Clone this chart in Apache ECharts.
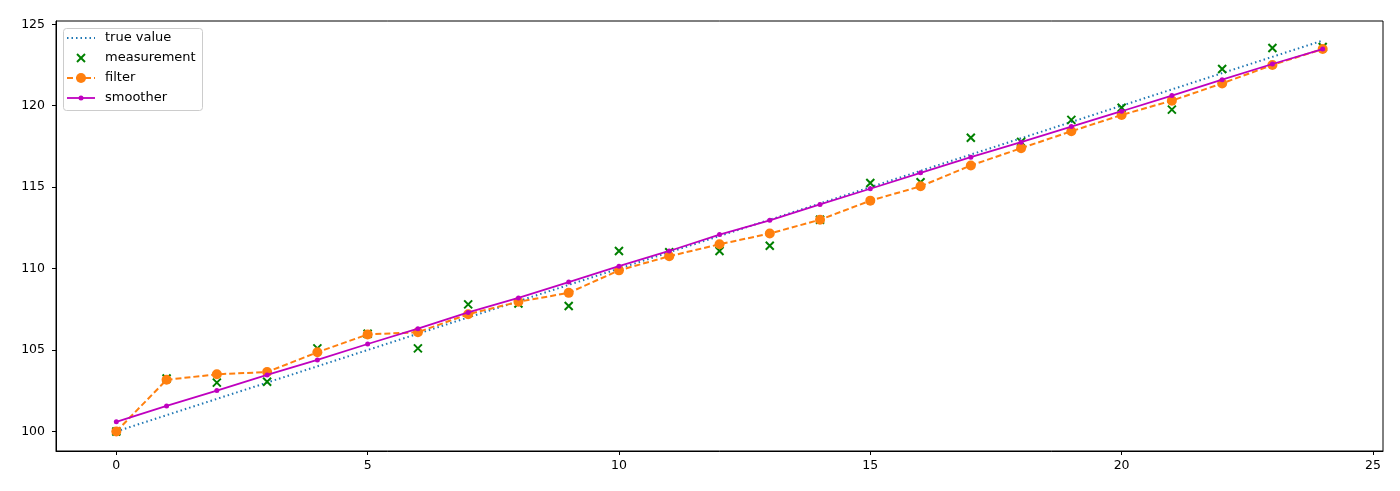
<!DOCTYPE html>
<html>
<head>
<meta charset="utf-8">
<script src="https://cdn.jsdelivr.net/npm/echarts@6/dist/echarts.min.js"></script>
<style>html,body{margin:0;padding:0;background:#fff}#c{width:1400px;height:491px}</style>
</head>
<body>
<div id="c"></div>
<script>
const steps = [0,1,2,3,4,5,6,7,8,9,10,11,12,13,14,15,16,17,18,19,20,21,22,23,24];
const trueValue = [100,101,102,103,104,105,106,107,108,109,110,111,112,113,114,115,116,117,118,119,120,121,122,123,124];
const measurement = [100.0,103.25,103.0,103.05,105.1,106.0,105.1,107.8,107.86,107.7,111.08,111.0,111.08,111.4,113.0,115.25,115.3,118.03,117.78,119.13,119.87,119.76,122.25,123.54,123.6];
const filterVals = [100.0,103.17,103.51,103.65,104.86,105.96,106.09,107.2,107.96,108.51,109.89,110.76,111.49,112.15,113.0,114.17,115.05,116.33,117.39,118.43,119.43,120.31,121.37,122.5,123.48];
const smoother = [100.59,101.57,102.51,103.47,104.39,105.37,106.31,107.31,108.2,109.17,110.15,111.08,112.09,112.96,113.94,114.9,115.88,116.84,117.76,118.72,119.66,120.62,121.6,122.56,123.48];
const xTicks = [0,5,10,15,20,25];
const yTicks = [100,105,110,115,120,125];
const legendNames = ['true value','measurement','filter','smoother'];

const pairs = arr => steps.map((t,i)=>[t,arr[i]]);
const font = 'DejaVu Sans';
const C = {truth:'#1f77b4', meas:'#008000', filt:'#ff7f0e', smooth:'#bf00bf'};

// legend built from graphic elements
const lg = {x:63, y:28, w:139, h:82, rowY:[38,58,78,98], ix1:67, ix2:95, tx:105};
const legendEls = [
  {type:'rect', shape:{x:lg.x+0.5,y:lg.y+0.5,width:lg.w,height:lg.h,r:3}, style:{fill:'rgba(255,255,255,0.8)',stroke:'#cccccc',lineWidth:1}},
  {type:'line', shape:{x1:lg.ix1,y1:lg.rowY[0],x2:lg.ix2,y2:lg.rowY[0]}, style:{stroke:C.truth,lineWidth:2,lineDash:[1.5,3]}},
  {type:'polyline', shape:{points:[[77,54],[85,62]]}, style:{stroke:C.meas,lineWidth:2,fill:null}},
  {type:'polyline', shape:{points:[[85,54],[77,62]]}, style:{stroke:C.meas,lineWidth:2,fill:null}},
  {type:'line', shape:{x1:lg.ix1,y1:lg.rowY[2],x2:lg.ix2,y2:lg.rowY[2]}, style:{stroke:C.filt,lineWidth:2,lineDash:[6,3]}},
  {type:'circle', shape:{cx:81,cy:lg.rowY[2],r:5}, style:{fill:C.filt}},
  {type:'line', shape:{x1:lg.ix1,y1:lg.rowY[3],x2:lg.ix2,y2:lg.rowY[3]}, style:{stroke:C.smooth,lineWidth:1.8}},
  {type:'circle', shape:{cx:81,cy:lg.rowY[3],r:2.5}, style:{fill:C.smooth}}
];
legendNames.forEach((n,i)=>legendEls.push({type:'text', x:lg.tx, y:lg.rowY[i],
  style:{text:n, font:'13px "DejaVu Sans"', fill:'#000', verticalAlign:'middle', align:'left'}}));

const chart = echarts.init(document.getElementById('c'), null, {renderer:'canvas'});
chart.setOption({
  animation:false,
  backgroundColor:'#fff',
  textStyle:{fontFamily:font},
  grid:{left:56,right:17,top:21,bottom:40,show:true,borderColor:'#000',borderWidth:1,backgroundColor:'transparent'},
  graphic:{elements:[{type:'group', z:100, children:legendEls}]},
  xAxis:{
    type:'value', min:-1.2, max:25.2,
    splitLine:{show:false},
    axisLine:{show:true,onZero:false,lineStyle:{color:'#000',width:1}},
    axisTick:{show:true,inside:false,length:4,lineStyle:{color:'#000'},customValues:xTicks},
    axisLabel:{fontFamily:font,fontSize:12.5,color:'#000',margin:8,customValues:xTicks,showMinLabel:true,showMaxLabel:true}
  },
  yAxis:{
    type:'value', min:98.8, max:125.2,
    splitLine:{show:false},
    axisLine:{show:true,onZero:false,lineStyle:{color:'#000',width:1}},
    axisTick:{show:true,inside:false,length:4,lineStyle:{color:'#000'},customValues:yTicks},
    axisLabel:{fontFamily:font,fontSize:12.5,color:'#000',margin:11,customValues:yTicks}
  },
  series:[
    {name:'true value',type:'line',data:pairs(trueValue),showSymbol:false,symbol:'none',
     lineStyle:{color:C.truth,width:2,type:[1.5,3]},itemStyle:{color:C.truth},z:2},
    {name:'measurement',type:'scatter',data:pairs(measurement),
     symbol:'path://M0,0L10,10M10,0L0,10',symbolSize:8,
     itemStyle:{color:'transparent',borderColor:C.meas,borderWidth:2,opacity:1},z:3},
    {name:'filter',type:'line',data:pairs(filterVals),symbol:'circle',symbolSize:10,showSymbol:true,
     lineStyle:{color:C.filt,width:2,type:[6,3]},itemStyle:{color:C.filt},z:4},
    {name:'smoother',type:'line',data:pairs(smoother),symbol:'circle',symbolSize:5,showSymbol:true,
     lineStyle:{color:C.smooth,width:1.8},itemStyle:{color:C.smooth},z:5}
  ]
});
</script>
</body>
</html>
